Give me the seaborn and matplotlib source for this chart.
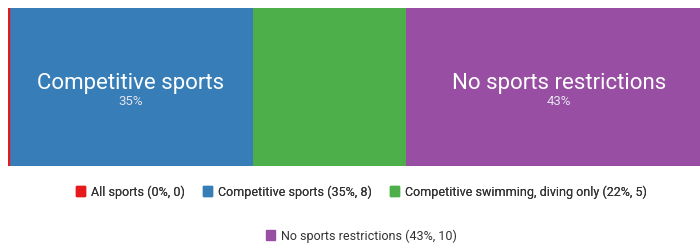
import matplotlib
matplotlib.use("Agg")
import matplotlib.pyplot as plt
import matplotlib.patches as mpatches
import numpy as np
import pandas as pd
import seaborn as sns

# Data
categories = ["All sports", "Competitive sports", "Competitive swimming, diving only", "No sports restrictions"]
counts = [0, 8, 5, 10]
percents = [0, 35, 22, 43]

colors = sns.color_palette("Set1", 4)

sns.set_theme(style="white")
plt.rcParams["font.family"] = ["Roboto", "DejaVu Sans"]

total = sum(counts)
shares = np.array(counts) / total * 100
cum = np.cumsum(shares)
df = pd.DataFrame({"category": categories, "share": shares, "cum": cum, "pct": percents})

fig = plt.figure(figsize=(7, 2.44), dpi=100)
ax = fig.add_axes([8 / 700, 78 / 244, 704 / 700, 158 / 244])

# stacked bar: draw cumulative bars from the longest down so each one covers the previous
for i in reversed(range(len(df))):
    sns.barplot(x=[df["cum"][i]], y=[0], orient="h", color=colors[i], width=1.0,
                saturation=1, ax=ax, linewidth=0)
# the 0% segment only shows as a thin line on the left edge
ax.axvline(0, color=colors[0], lw=2.5)

ax.set_xlim(0, 100)
ax.set_ylim(0.5, -0.5)
ax.axis("off")

# labels inside big segments
for i in range(len(df)):
    if df["pct"][i] < 30:
        continue
    mid = df["cum"][i] - df["share"][i] / 2
    ax.text(mid, -0.02, df["category"][i], color="white", fontsize=16, ha="center", va="center")
    ax.text(mid, 0.09, f"{df['pct'][i]}%", color="#e4e4ee", fontsize=9.5, ha="center", va="center")

# legend in two rows
handles = [mpatches.Patch(color=colors[i], label=f"{categories[i]} ({percents[i]}%, {counts[i]})")
           for i in range(len(categories))]
leg1 = fig.legend(handles=handles[:3], loc="center", bbox_to_anchor=(361 / 700, 1 - 192 / 244), ncol=3,
                  frameon=False, fontsize=9, handlelength=0.75, handleheight=0.85,
                  handletextpad=0.45, columnspacing=1.45, labelcolor="#333333")
fig.add_artist(leg1)
fig.legend(handles=handles[3:], loc="center", bbox_to_anchor=(361 / 700, 1 - 236 / 244), ncol=1,
           frameon=False, fontsize=9, handlelength=0.75, handleheight=0.85,
           handletextpad=0.45, labelcolor="#333333")

fig.savefig("out.png", dpi=100)
